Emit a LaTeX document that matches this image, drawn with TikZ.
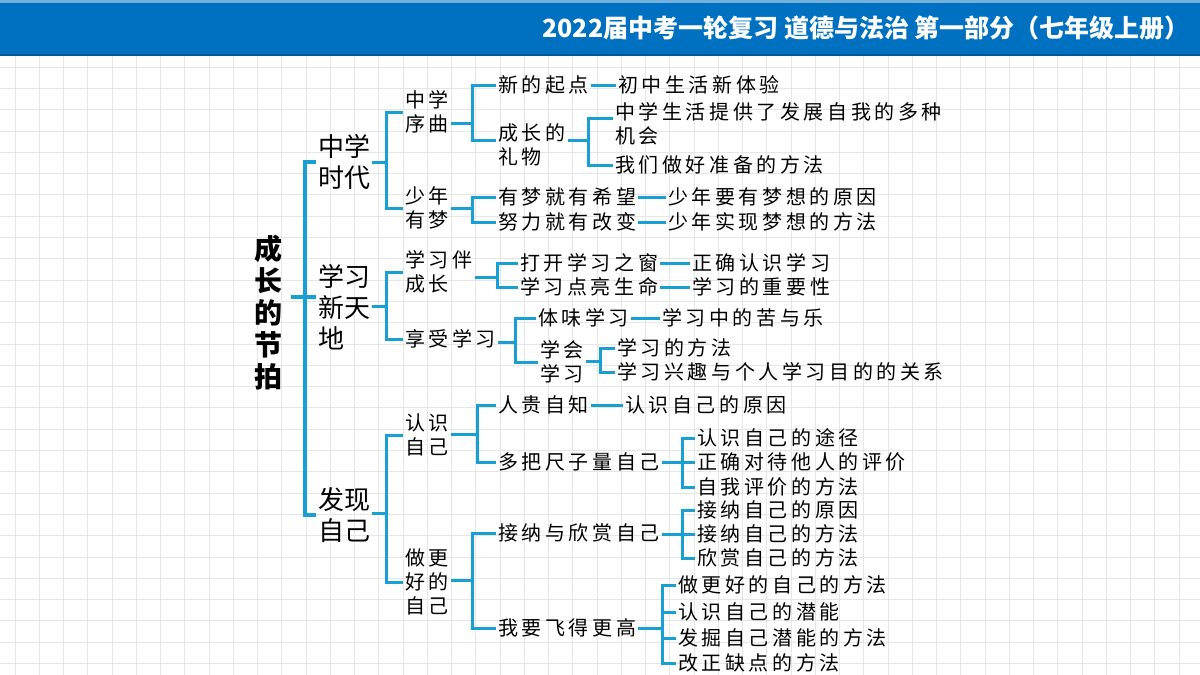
\documentclass[tikz,border=0pt]{standalone}
\usepackage{fontspec}
\usetikzlibrary{calc}
\setmainfont{Noto Sans CJK SC}
\newfontfamily\kaiface[LetterSpace=18]{Noto Sans CJK SC}
\definecolor{brcol}{RGB}{24,160,212}
\definecolor{barcol}{RGB}{0,112,192}
\definecolor{gridcol}{RGB}{230,230,230}
\newcommand{\lvfont}{\kaiface\fontsize{20}{24}\selectfont}

\begin{document}
\begin{tikzpicture}[x=1pt,y=-1pt,
  br/.style={draw=brcol,line width=3pt},
  rootbr/.style={draw=brcol,line width=4pt},
  gridline/.style={draw=gridcol,line width=0.8pt},
  title/.style={inner sep=0pt,text=white,font=\bfseries\fontsize{25}{25}\selectfont},
  root/.style={inner ysep=2pt,inner xsep=9pt,align=center,font=\bfseries\fontsize{28}{32}\selectfont},
  lone/.style={anchor=west,inner sep=2pt,align=left,font=\fontsize{26}{31}\selectfont},
  ltext/.style={anchor=west,inner sep=2pt,align=left,font=\lvfont}]
\useasboundingbox (0,0) rectangle (1200,675);
\fill[white] (0,0) rectangle (1200,675);
\foreach \i in {0,...,48} \draw[gridline] ({15+24.25*\i},56) -- ({15+24.25*\i},675);
\foreach \j in {0,...,28} \draw[gridline] (0,{67+21.3*\j}) -- (1200,{67+21.3*\j});
\fill[barcol] (0,0) rectangle (1200,56);
\fill[barcol!55!white] (0,0) rectangle (1200,2.5);
\fill[barcol!80!black] (0,54) rectangle (1200,56);
\node[title,anchor=east] (ttl) at (1190,28) {2022届中考一轮复习 道德与法治 第一部分（七年级上册）};

\node[root] (jp) at (268,313) {成\\长\\的\\节\\拍};
\node[lone] (zxsd) at (316,162) {中学\\时代};
\node[lone] (xxxtd) at (316,307) {学习\\新天\\地};
\node[lone] (fxzj) at (316,515) {发现\\自己};
\coordinate (b0) at (305,297);
\draw[rootbr] (zxsd.west) -| (b0) |- (fxzj.west);
\draw[rootbr] (jp.east |- b0) -- (xxxtd.west |- b0);

\node[ltext] (zxxq) at (403,112) {中学\\序曲};
\node[ltext] (snym) at (403,208) {少年\\有梦};
\coordinate (b1) at (386,162);
\draw[br] (zxsd.east |- b1) -- (b1);
\draw[br] (zxxq.west) -| (b1) |- (snym.west);

\node[ltext] (xdqd) at (496,85) {新的起点};
\node[ltext] (czdlw) at (496,145) {成长的\\礼物};
\coordinate (b2) at (472,123);
\draw[br] (zxxq.east |- b2) -- (b2);
\draw[br] (xdqd.west) -| (b2) |- (czdlw.west |- 0,140);
\node[ltext] (cxsh) at (616,85) {初中生活新体验};
\draw[br] (xdqd.east) -- (cxsh.west);
\node[ltext] (zxshtg) at (613,124) {中学生活提供了发展自我的多种\\机会};
\node[ltext] (wmzhzb) at (613,165) {我们做好准备的方法};
\coordinate (b3) at (588,140);
\draw[br] (czdlw.east |- b3) -- (b3);
\draw[br] ($(zxshtg.west)+(0,-6)$) -| (b3) |- (wmzhzb.west);

\node[ltext] (ymjyxw) at (496,197) {有梦就有希望};
\node[ltext] (nljygb) at (496,222) {努力就有改变};
\coordinate (b4) at (472,208);
\draw[br] (snym.east |- b4) -- (b4);
\draw[br] (ymjyxw.west) -| (b4) |- (nljygb.west);
\node[ltext] (snyy) at (666,197) {少年要有梦想的原因};
\node[ltext] (snsx) at (666,222) {少年实现梦想的方法};
\draw[br] (ymjyxw.east) -- (snyy.west);
\draw[br] (nljygb.east) -- (snsx.west);

\node[ltext] (xxbcz) at (403,272) {学习伴\\成长};
\node[ltext] (xsxx) at (403,339) {享受学习};
\coordinate (b5) at (386,306);
\draw[br] (xxxtd.east |- b5) -- (b5);
\draw[br] (xxbcz.west) -| (b5) |- (xsxx.west);

\node[ltext] (dkxx) at (518,263) {打开学习之窗};
\node[ltext] (xxdl) at (518,287) {学习点亮生命};
\coordinate (b6) at (497,277);
\draw[br] (xxbcz.east |- b6) -- (b6);
\draw[br] (dkxx.west) -| (b6) |- (xxdl.west);
\node[ltext] (zqrs) at (690,263) {正确认识学习};
\node[ltext] (xxzy) at (690,287) {学习的重要性};
\draw[br] (dkxx.east) -- (zqrs.west);
\draw[br] (xxdl.east) -- (xxzy.west);

\node[ltext] (twxx) at (536,318) {体味学习};
\node[ltext] (xhxx) at (538,362) {学会\\学习};
\coordinate (b7) at (515,342);
\draw[br] (xsxx.east |- b7) -- (b7);
\draw[br] (twxx.west) -| (b7) |- (xhxx.west);
\node[ltext] (xxzkl) at (660,318) {学习中的苦与乐};
\draw[br] (twxx.east) -- (xxzkl.west);
\node[ltext] (xxff) at (615,348) {学习的方法};
\node[ltext] (xxxq) at (615,372) {学习兴趣与个人学习目的的关系};
\coordinate (b8) at (600,361);
\draw[br] (xhxx.east |- b8) -- (b8);
\draw[br] (xxff.west) -| (b8) |- (xxxq.west);

\node[ltext] (rszj) at (403,435) {认识\\自己};
\node[ltext] (zghd) at (403,582) {做更\\好的\\自己};
\coordinate (b9) at (386,513);
\draw[br] (fxzj.east |- b9) -- (b9);
\draw[br] (rszj.west) -| (b9) |- (zghd.west);

\node[ltext] (rgzz) at (496,405) {人贵自知};
\node[ltext] (dbcz) at (496,462) {多把尺子量自己};
\coordinate (b10) at (477,434);
\draw[br] (rszj.east |- b10) -- (b10);
\draw[br] (rgzz.west) -| (b10) |- (dbcz.west);
\node[ltext] (rszjyy) at (623,405) {认识自己的原因};
\draw[br] (rgzz.east) -- (rszjyy.west);
\node[ltext] (rszjtj) at (695,438) {认识自己的途径};
\node[ltext] (zqdd) at (695,462) {正确对待他人的评价};
\node[ltext] (zwpj) at (695,487) {自我评价的方法};
\coordinate (b11) at (682,462);
\draw[br] (dbcz.east |- b11) -- (b11);
\draw[br] (rszjtj.west) -| (b11) |- (zwpj.west);
\draw[br] (b11 |- zqdd.west) -- (zqdd.west);

\node[ltext] (jnxs) at (496,533) {接纳与欣赏自己};
\node[ltext] (wyfd) at (496,628) {我要飞得更高};
\coordinate (b12) at (472,580);
\draw[br] (zghd.east |- b12) -- (b12);
\draw[br] (jnxs.west) -| (b12) |- (wyfd.west);
\node[ltext] (jnyy) at (695,510) {接纳自己的原因};
\node[ltext] (jnff) at (695,534) {接纳自己的方法};
\node[ltext] (xsff) at (695,558) {欣赏自己的方法};
\coordinate (b13) at (682,534);
\draw[br] (jnxs.east |- b13) -- (b13);
\draw[br] (jnyy.west) -| (b13) |- (xsff.west);
\draw[br] (b13 |- jnff.west) -- (jnff.west);

\node[ltext] (zghff) at (676,585) {做更好的自己的方法};
\node[ltext] (rsqn) at (676,612) {认识自己的潜能};
\node[ltext] (fjqn) at (676,638) {发掘自己潜能的方法};
\node[ltext] (gzqd) at (676,663) {改正缺点的方法};
\coordinate (b14) at (662,628);
\draw[br] (wyfd.east |- b14) -- (b14);
\draw[br] (zghff.west) -| (b14) |- (gzqd.west);
\draw[br] (b14 |- rsqn.west) -- (rsqn.west);
\draw[br] (b14 |- fjqn.west) -- (fjqn.west);
\end{tikzpicture}
\end{document}
